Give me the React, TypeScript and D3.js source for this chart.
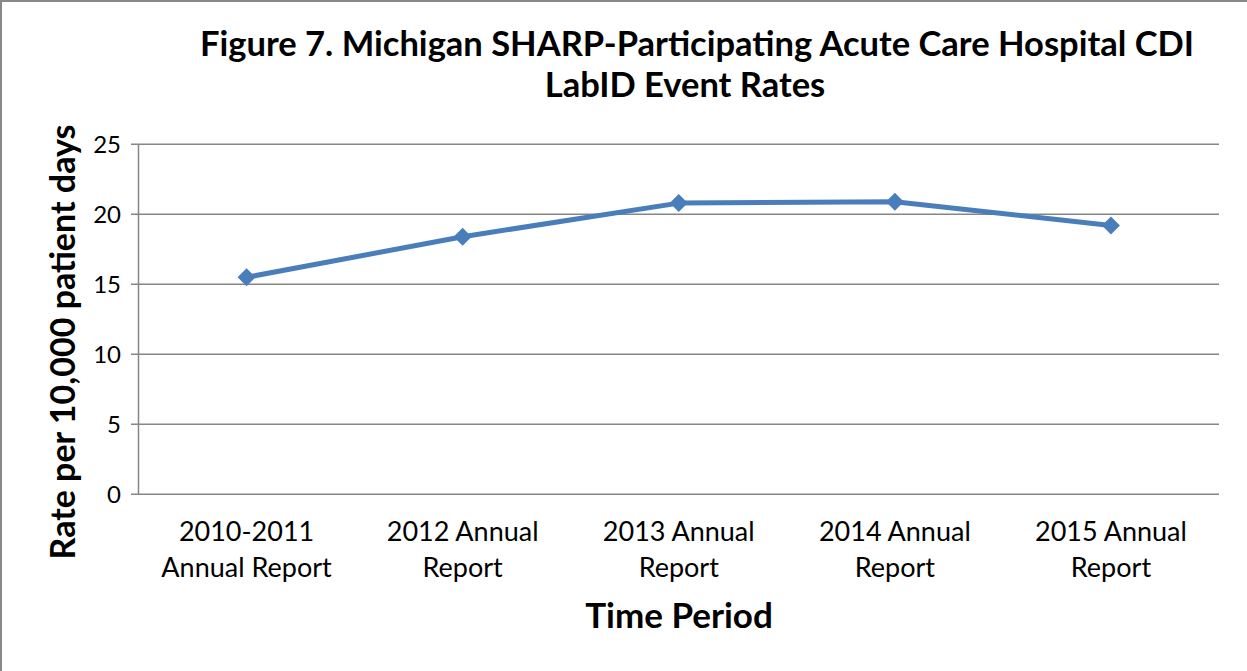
import React from "react";
import * as d3 from "d3";

const categories: string[][] = [
  ["2010-2011", "Annual Report"],
  ["2012 Annual", "Report"],
  ["2013 Annual", "Report"],
  ["2014 Annual", "Report"],
  ["2015 Annual", "Report"],
];
const rates: number[] = [15.5, 18.4, 20.8, 20.9, 19.2];
const yTicks: number[] = [0, 5, 10, 15, 20, 25];
const titleLines: string[] = [
  "Figure 7. Michigan SHARP-Participating Acute Care Hospital CDI",
  "LabID Event Rates",
];
const xTitle = "Time Period";
const yTitle = "Rate per 10,000 patient days";

const W = 1247;
const H = 671;
const left = 138.5;
const right = 1219;
const top = 144.3;
const bottom = 494.3;
const FONT = "Lato, 'Open Sans', sans-serif";

export default function App() {
  const x = d3
    .scaleBand<number>()
    .domain(d3.range(categories.length))
    .range([left, right]);
  const y = d3.scaleLinear().domain([0, 25]).range([bottom, top]);
  const cx = (i: number) => (x(i) as number) + x.bandwidth() / 2;
  const line = d3
    .line<number>()
    .x((_, i) => cx(i))
    .y((d) => y(d));
  const gridColor = "#868686";
  const blue = "#4A7EBB";
  const d = 9;
  return (
    <svg
      width={W}
      height={H}
      style={{ position: "absolute", left: 0, top: 0, background: "#fff" }}
    >
      <rect x={1} y={1} width={W + 10} height={H + 10} fill="#fff" stroke="#888" strokeWidth={2} />
      <g fontFamily={FONT} fontWeight="bold" fontSize={34.5} fill="#000" textAnchor="middle">
        <text x={697} y={56}>{titleLines[0]}</text>
        <text x={685} y={97}>{titleLines[1]}</text>
      </g>
      {yTicks.map((t) => (
        <g key={t}>
          <line x1={131} x2={right} y1={y(t)} y2={y(t)} stroke={gridColor} strokeWidth={1.5} />
          <text x={121} y={y(t) + 8.5} textAnchor="end" fontFamily={FONT} fontSize={24}>
            {t}
          </text>
        </g>
      ))}
      <line x1={left} x2={left} y1={top} y2={bottom} stroke={gridColor} strokeWidth={1.5} />
      {categories.map((c, i) => (
        <text key={i} textAnchor="middle" fontFamily={FONT} fontSize={27}>
          <tspan x={cx(i)} y={541}>{c[0]}</tspan>
          <tspan x={cx(i)} y={577}>{c[1]}</tspan>
        </text>
      ))}
      <path d={line(rates) || ""} fill="none" stroke={blue} strokeWidth={5} strokeLinejoin="round" />
      {rates.map((v, i) => (
        <path
          key={i}
          d={`M${cx(i)},${y(v) - d}L${cx(i) + d},${y(v)}L${cx(i)},${y(v) + d}L${cx(i) - d},${y(v)}Z`}
          fill={blue}
        />
      ))}
      <text x={679} y={628} textAnchor="middle" fontFamily={FONT} fontWeight="bold" fontSize={35}>
        {xTitle}
      </text>
      <text
        transform={`translate(75,342) rotate(-90)`}
        textAnchor="middle"
        fontFamily={FONT}
        fontWeight="bold"
        fontSize={34}
      >
        {yTitle}
      </text>
    </svg>
  );
}
